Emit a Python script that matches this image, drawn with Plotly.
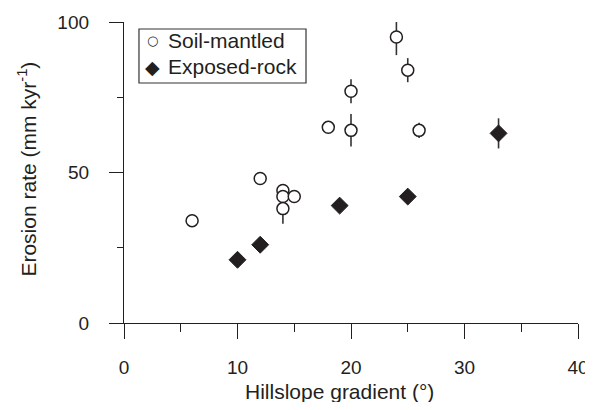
import plotly.graph_objects as go

soil_x = [6, 12, 14, 14, 15, 14, 18, 20, 20, 24, 25, 26]
soil_y = [34, 48, 44, 42, 42, 38, 65, 64, 77, 95, 84, 64]
soil_err = [0, 0, 0, 0, 0, 5, 0, 5.4, 4, 6, 4, 2.5]

rock_x = [10, 12, 19, 25, 33]
rock_y = [21, 26, 39, 42, 63]
rock_err = [0, 0, 0, 0, 5]

x_ticks = [0, 10, 20, 30, 40]
y_ticks = [0, 50, 100]

x_title = "Hillslope gradient (°)"
y_title = "Erosion rate (mm kyr<sup>-1</sup>)"
legend_names = ["Soil-mantled", "Exposed-rock"]
legend_glyphs = ["○", "◆"]

ink = "#231f20"
font = "Liberation Sans, Arial, sans-serif"

fig = go.Figure()
fig.add_trace(go.Scatter(
    x=soil_x, y=soil_y, mode="markers", name=legend_names[0], showlegend=False,
    error_y=dict(type="data", array=soil_err, visible=True, width=0, thickness=1.6, color="#333333"),
    marker=dict(symbol="circle", size=12, color="white", line=dict(color=ink, width=1.5)),
))
fig.add_trace(go.Scatter(
    x=rock_x, y=rock_y, mode="markers", name=legend_names[1], showlegend=False,
    error_y=dict(type="data", array=rock_err, visible=True, width=0, thickness=1.6, color="#333333"),
    marker=dict(symbol="diamond", size=13, color=ink, line=dict(color=ink, width=1)),
))

# hand-made legend (box, glyphs, labels) in paper coordinates
legend_rows_y = [0.9369, 0.8505]
annotations = [
    dict(text=x_title, xref="paper", yref="paper", x=0.4736, y=-0.226,
         xanchor="center", yanchor="middle", showarrow=False, font=dict(size=21)),
    dict(text=y_title, xref="paper", yref="paper", x=-0.2137, y=0.513,
         xanchor="center", yanchor="middle", showarrow=False, textangle=-90,
         font=dict(size=21)),
]
glyph_sizes = [13, 19]
for name, glyph, gy, gs in zip(legend_names, legend_glyphs, legend_rows_y, glyph_sizes):
    annotations.append(dict(text=glyph, xref="paper", yref="paper", x=0.0617, y=gy,
                            xanchor="center", yanchor="middle", showarrow=False,
                            font=dict(size=gs, family="DejaVu Sans", color=ink)))
    annotations.append(dict(text=name, xref="paper", yref="paper", x=0.0925, y=gy,
                            xanchor="left", yanchor="middle", showarrow=False,
                            font=dict(size=21, color=ink)))

fig.update_layout(
    width=585, height=394,
    margin=dict(l=116, r=15, t=14, b=79),
    paper_bgcolor="white", plot_bgcolor="white",
    font=dict(family=font, size=19, color=ink),
    showlegend=False,
    annotations=annotations,
    shapes=[dict(type="rect", xref="paper", yref="paper", x0=0.033, x1=0.4009,
                 y0=0.7973, y1=0.9767, line=dict(color="#333333", width=1.2),
                 fillcolor="rgba(0,0,0,0)", layer="above")],
)
fig.update_xaxes(
    range=[0, 40], tickvals=x_ticks, ticktext=[str(v) for v in x_ticks],
    showgrid=False, zeroline=False, showline=True, linecolor=ink, linewidth=1.3,
    ticks="outside", ticklen=15, tickwidth=1.3, tickcolor=ink, ticklabelstandoff=12,
    minor=dict(dtick=5, tick0=0, ticks="outside", ticklen=8, tickwidth=1.3, tickcolor=ink, showgrid=False),
    automargin=False,
)
fig.update_yaxes(
    range=[0, 100], tickvals=y_ticks, ticktext=[str(v) for v in y_ticks],
    showgrid=False, zeroline=False, showline=True, linecolor=ink, linewidth=1.3,
    ticks="outside", ticklen=14, tickwidth=1.3, tickcolor=ink, ticklabelstandoff=16,
    minor=dict(dtick=25, tick0=0, ticks="outside", ticklen=6, tickwidth=1.3, tickcolor=ink, showgrid=False),
    automargin=False,
)

fig.write_html("out.html")
